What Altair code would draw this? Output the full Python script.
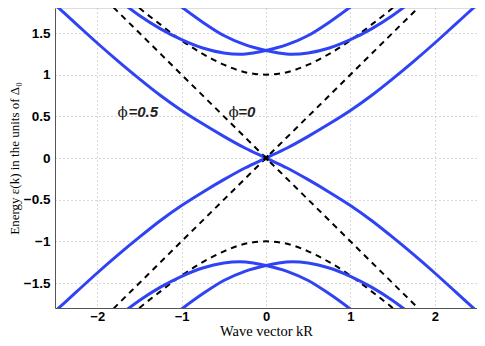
import altair as alt
import pandas as pd

# Blue curves (phi = 0.5)
kB = [-2.5, -2.25, -2.0, -1.75, -1.5, -1.25, -1.0, -0.75, -0.5, -0.25, 0.0,
      0.25, 0.5, 0.75, 1.0, 1.25, 1.5, 1.75, 2.0, 2.25, 2.5]
eB = [-1.84, -1.61, -1.38, -1.16, -0.95, -0.75, -0.57, -0.41, -0.26, -0.12, 0.0,
      0.12, 0.26, 0.41, 0.57, 0.75, 0.95, 1.16, 1.38, 1.61, 1.84]
kD = [-1.05, -0.75, -0.5, -0.25, 0.0, 0.15, 0.31, 0.5, 0.75, 1.0, 1.25, 1.5, 1.7]
eD = [1.85, 1.63, 1.47, 1.36, 1.29, 1.26, 1.245, 1.26, 1.32, 1.42, 1.55, 1.71, 1.86]

# Dashed curves (phi = 0)
kH = [-1.6, -1.5, -1.25, -1.0, -0.75, -0.5, -0.25, 0.0, 0.25, 0.5, 0.75, 1.0, 1.25, 1.5, 1.6]
eH = [1.89, 1.8, 1.6, 1.41, 1.25, 1.12, 1.03, 1.0, 1.03, 1.12, 1.25, 1.41, 1.6, 1.8, 1.89]
kL = [-1.9, 0.0, 1.9]
eL = [-1.9, 0.0, 1.9]

x_ticks = [-2, -1, 0, 1, 2]
y_ticks = [-1.5, -1, -0.5, 0, 0.5, 1, 1.5]

phi_sym_k = [-1.76, -0.445]
phi_rest_k = [-1.63, -0.33]
phi_e = [0.55, 0.55]
phi_rest = ["=0.5", "=0"]

rows = []
def add(name, ks, es):
    for i, (k, e) in enumerate(zip(ks, es)):
        rows.append({"curve": name, "k": k, "e": e, "i": i})

add("B", kB, eB)
add("A", kB, [-v for v in eB])
add("D", kD, eD)
add("C", [-v for v in kD], eD)
add("Dn", kD, [-v for v in eD])
add("Cn", [-v for v in kD], [-v for v in eD])
blue = pd.DataFrame(rows)

rows = []
add("H", kH, eH)
add("Hn", kH, [-v for v in eH])
add("L1", kL, eL)
add("L2", kL, [-v for v in eL])
dash = pd.DataFrame(rows)

xs = alt.Scale(domain=[-2.5, 2.5], nice=False, zero=False)
ys = alt.Scale(domain=[-1.8, 1.8], nice=False, zero=False)

xaxis = alt.Axis(values=x_ticks, format="~g", title="Wave vector kR",
                 grid=True, gridColor="#b0b0b0", gridDash=[1, 3], gridWidth=1,
                 ticks=False, labelPadding=2, labelFont="Liberation Sans",
                 labelFontWeight="bold", labelFontSize=13, labelColor="black",
                 domainColor="#555555", titleFont="Liberation Serif",
                 titleFontWeight="normal", titleFontSize=14.5, titleColor="black",
                 titlePadding=1)
yaxis = alt.Axis(values=y_ticks, format="~g",
                 title="Energy  ε(k) in the units of  Δ₀",
                 grid=True, gridColor="#b0b0b0", gridDash=[1, 3], gridWidth=1,
                 ticks=False, labelPadding=5, labelFont="Liberation Sans",
                 labelFontWeight="bold", labelFontSize=13.5, labelColor="black",
                 domainColor="#555555", titleFont="Liberation Serif",
                 titleFontWeight="normal", titleFontSize=13, titleColor="black",
                 titleX=-34)

base_blue = alt.Chart(blue).mark_line(color="#2f43f5", strokeWidth=3, clip=True,
                                      interpolate="monotone").encode(
    x=alt.X("k:Q", scale=xs, axis=xaxis),
    y=alt.Y("e:Q", scale=ys, axis=yaxis),
    detail="curve:N",
    order="i:Q",
)
dashed = alt.Chart(dash).mark_line(color="black", strokeWidth=2, strokeDash=[6, 5],
                                   clip=True, interpolate="monotone").encode(
    x=alt.X("k:Q", scale=xs),
    y=alt.Y("e:Q", scale=ys),
    detail="curve:N",
    order="i:Q",
)
cross = alt.Chart(pd.DataFrame({"k": [0.0], "e": [0.0]})).mark_point(
    shape="cross", angle=45, filled=True, color="black", size=40, opacity=1
).encode(x=alt.X("k:Q", scale=xs), y=alt.Y("e:Q", scale=ys))

lab = pd.DataFrame({"ks": phi_sym_k, "kr": phi_rest_k, "e": phi_e, "t": phi_rest})
phi_text = alt.Chart(lab).mark_text(text="ϕ", font="DejaVu Serif", fontSize=15,
                                    align="left", baseline="middle", color="#222222").encode(
    x=alt.X("ks:Q", scale=xs), y=alt.Y("e:Q", scale=ys))
rest_text = alt.Chart(lab).mark_text(font="Liberation Sans", fontSize=15, fontWeight="bold",
                                     fontStyle="italic", align="left", baseline="middle",
                                     color="#222222").encode(
    x=alt.X("kr:Q", scale=xs), y=alt.Y("e:Q", scale=ys), text="t:N")

chart = alt.layer(dashed, base_blue, cross, phi_text, rest_text).properties(
    width=422, height=300,
    autosize=alt.AutoSizeParams(type="none"),
    padding={"left": 47, "top": 0, "right": 0, "bottom": 30},
).configure_view(stroke=None).configure(background="white")

chart.save("out.html", embed_options={"renderer": "svg", "actions": False})
